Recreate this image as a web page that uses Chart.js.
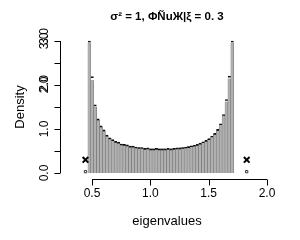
<!DOCTYPE html>
<html>
<head>
<meta charset="utf-8">
<script src="https://cdn.jsdelivr.net/npm/chart.js@4/dist/chart.umd.min.js"></script>
<style>
  body { margin: 0; background: #fff; }
</style>
</head>
<body>
<canvas id="histChart" width="300" height="240"></canvas>
<script>
// bin centres (width 0.025, from 0.465 to 1.715)
var binCenters = [
  0.4775, 0.5025, 0.5275, 0.5525, 0.5775, 0.6025, 0.6275, 0.6525, 0.6775, 0.7025,
  0.7275, 0.7525, 0.7775, 0.8025, 0.8275, 0.8525, 0.8775, 0.9025, 0.9275, 0.9525,
  0.9775, 1.0025, 1.0275, 1.0525, 1.0775, 1.1025, 1.1275, 1.1525, 1.1775, 1.2025,
  1.2275, 1.2525, 1.2775, 1.3025, 1.3275, 1.3525, 1.3775, 1.4025, 1.4275, 1.4525,
  1.4775, 1.5025, 1.5275, 1.5525, 1.5775, 1.6025, 1.6275, 1.6525, 1.6775, 1.7025
];

// gray histogram (density)
var histValues = [
  2.96, 2.10, 1.50, 1.20, 1.05, 0.95, 0.85, 0.79, 0.75, 0.71,
  0.68, 0.66, 0.64, 0.62, 0.61, 0.60, 0.58, 0.58, 0.57, 0.56,
  0.56, 0.55, 0.55, 0.55, 0.55, 0.55, 0.55, 0.55, 0.55, 0.56,
  0.56, 0.57, 0.58, 0.58, 0.60, 0.61, 0.62, 0.64, 0.67, 0.70,
  0.73, 0.77, 0.82, 0.88, 0.97, 1.10, 1.30, 1.62, 2.14, 2.96
];

// black outlined histogram drawn on top
var outlineValues = [
  3.00, 2.19, 1.55, 1.23, 1.07, 0.98, 0.86, 0.80, 0.76, 0.72,
  0.70, 0.66, 0.65, 0.64, 0.61, 0.61, 0.59, 0.58, 0.58, 0.56,
  0.57, 0.55, 0.55, 0.56, 0.55, 0.55, 0.55, 0.56, 0.55, 0.56,
  0.57, 0.57, 0.58, 0.59, 0.60, 0.62, 0.63, 0.65, 0.68, 0.71,
  0.74, 0.78, 0.84, 0.90, 0.99, 1.12, 1.33, 1.67, 2.20, 3.00
];

// extreme eigenvalues (crosses) and their small boxes on the axis
var extremeX = [0.444, 1.826];
var crossY = [0.30, 0.30];
var boxY = [0.03, 0.03];

var xTicks = [0.5, 1.0, 1.5, 2.0];
var xTickLabels = ['0.5', '1.0', '1.5', '2.0'];
var yTicks = [0, 0.5, 1, 1.5, 2, 2.5, 3];
var yTickLabels = ['0.0', '', '1.0', '', '2.0', '', '3.0'];

var titleText = 'σ² = 1, ΦÑuЖ|ξ = 0. 3';
var xTitle = 'eigenvalues';
var yTitle = 'Density';

function pairs(xs, ys) {
  var out = [];
  for (var i = 0; i < xs.length; i++) out.push({x: xs[i], y: ys[i]});
  return out;
}

// R style axes: line only over tick range, ticks outward
var rAxes = {
  id: 'rAxes',
  afterDraw: function(chart) {
    var ctx = chart.ctx;
    var xs = chart.scales.x, ys = chart.scales.y;
    ctx.save();
    ctx.strokeStyle = '#000';
    ctx.fillStyle = '#000';
    ctx.lineWidth = 1;

    // x axis
    var xAxisY = 179.5;
    ctx.beginPath();
    ctx.moveTo(xs.getPixelForValue(xTicks[0]), xAxisY);
    ctx.lineTo(xs.getPixelForValue(xTicks[xTicks.length - 1]), xAxisY);
    xTicks.forEach(function(t) {
      var px = Math.round(xs.getPixelForValue(t)) + 0.5;
      ctx.moveTo(px, xAxisY);
      ctx.lineTo(px, xAxisY + 6);
    });
    ctx.stroke();
    ctx.font = '12px "Liberation Sans", Arial, sans-serif';
    ctx.textAlign = 'center';
    ctx.textBaseline = 'middle';
    xTicks.forEach(function(t, i) {
      ctx.fillText(xTickLabels[i], xs.getPixelForValue(t), 194);
    });

    // y axis
    var yAxisX = 60.5;
    ctx.beginPath();
    ctx.moveTo(yAxisX, ys.getPixelForValue(yTicks[0]));
    ctx.lineTo(yAxisX, ys.getPixelForValue(yTicks[yTicks.length - 1]));
    yTicks.forEach(function(t) {
      var py = Math.round(ys.getPixelForValue(t)) + 0.5;
      ctx.moveTo(yAxisX, py);
      ctx.lineTo(yAxisX - 6, py);
    });
    ctx.stroke();
    yTicks.forEach(function(t, i) {
      if (!yTickLabels[i]) return;
      var py = ys.getPixelForValue(t);
      ctx.save();
      ctx.translate(45, py);
      ctx.rotate(-Math.PI / 2);
      ctx.fillText(yTickLabels[i], 0, 0);
      // second, slightly shifted copy (overplotted axis)
      if (t >= 2) ctx.fillText(yTickLabels[i], (t - 1.5) * 3, 0);
      ctx.restore();
    });

    // axis titles
    ctx.font = '13px "Liberation Sans", Arial, sans-serif';
    ctx.fillText(xTitle, 167, 221);
    ctx.save();
    ctx.translate(20, 107);
    ctx.rotate(-Math.PI / 2);
    ctx.fillText(yTitle, 0, 0);
    ctx.restore();

    // main title
    ctx.font = 'bold 11.5px "Liberation Sans", Arial, sans-serif';
    ctx.fillText(titleText, 167, 17);
    ctx.restore();
  }
};

var ctx = document.getElementById('histChart').getContext('2d');
new Chart(ctx, {
  type: 'bar',
  data: {
    datasets: [
      {
        type: 'scatter',
        label: 'extremes',
        data: pairs(extremeX, crossY),
        pointStyle: 'crossRot',
        pointRadius: 4,
        borderColor: '#000',
        borderWidth: 2
      },
      {
        type: 'scatter',
        label: 'boxes',
        data: pairs(extremeX, boxY),
        pointStyle: 'rect',
        pointRadius: 1.6,
        backgroundColor: '#fff',
        borderColor: '#333',
        borderWidth: 1
      },
      {
        label: 'outline',
        data: pairs(binCenters, outlineValues),
        backgroundColor: 'rgba(0,0,0,0)',
        borderColor: '#111',
        borderWidth: { top: 1, left: 0, right: 0, bottom: 0 },
        borderSkipped: false,
        barPercentage: 1,
        categoryPercentage: 1,
        grouped: false
      },
      {
        label: 'hist',
        data: pairs(binCenters, histValues),
        backgroundColor: '#b0b0b0',
        borderColor: '#6a6a6a',
        borderWidth: 0.5,
        barPercentage: 1,
        categoryPercentage: 1,
        grouped: false
      }
    ]
  },
  options: {
    responsive: false,
    animation: false,
    devicePixelRatio: 1,
    layout: { padding: { left: 80, right: 30, top: 36, bottom: 62 } },
    plugins: { legend: { display: false }, tooltip: { enabled: false } },
    scales: {
      x: { type: 'linear', display: false, offset: false, min: 0.3971, max: 2.0257 },
      y: { type: 'linear', display: false, min: -0.1136, max: 3.1136 }
    }
  },
  plugins: [rAxes]
});
</script>
</body>
</html>
